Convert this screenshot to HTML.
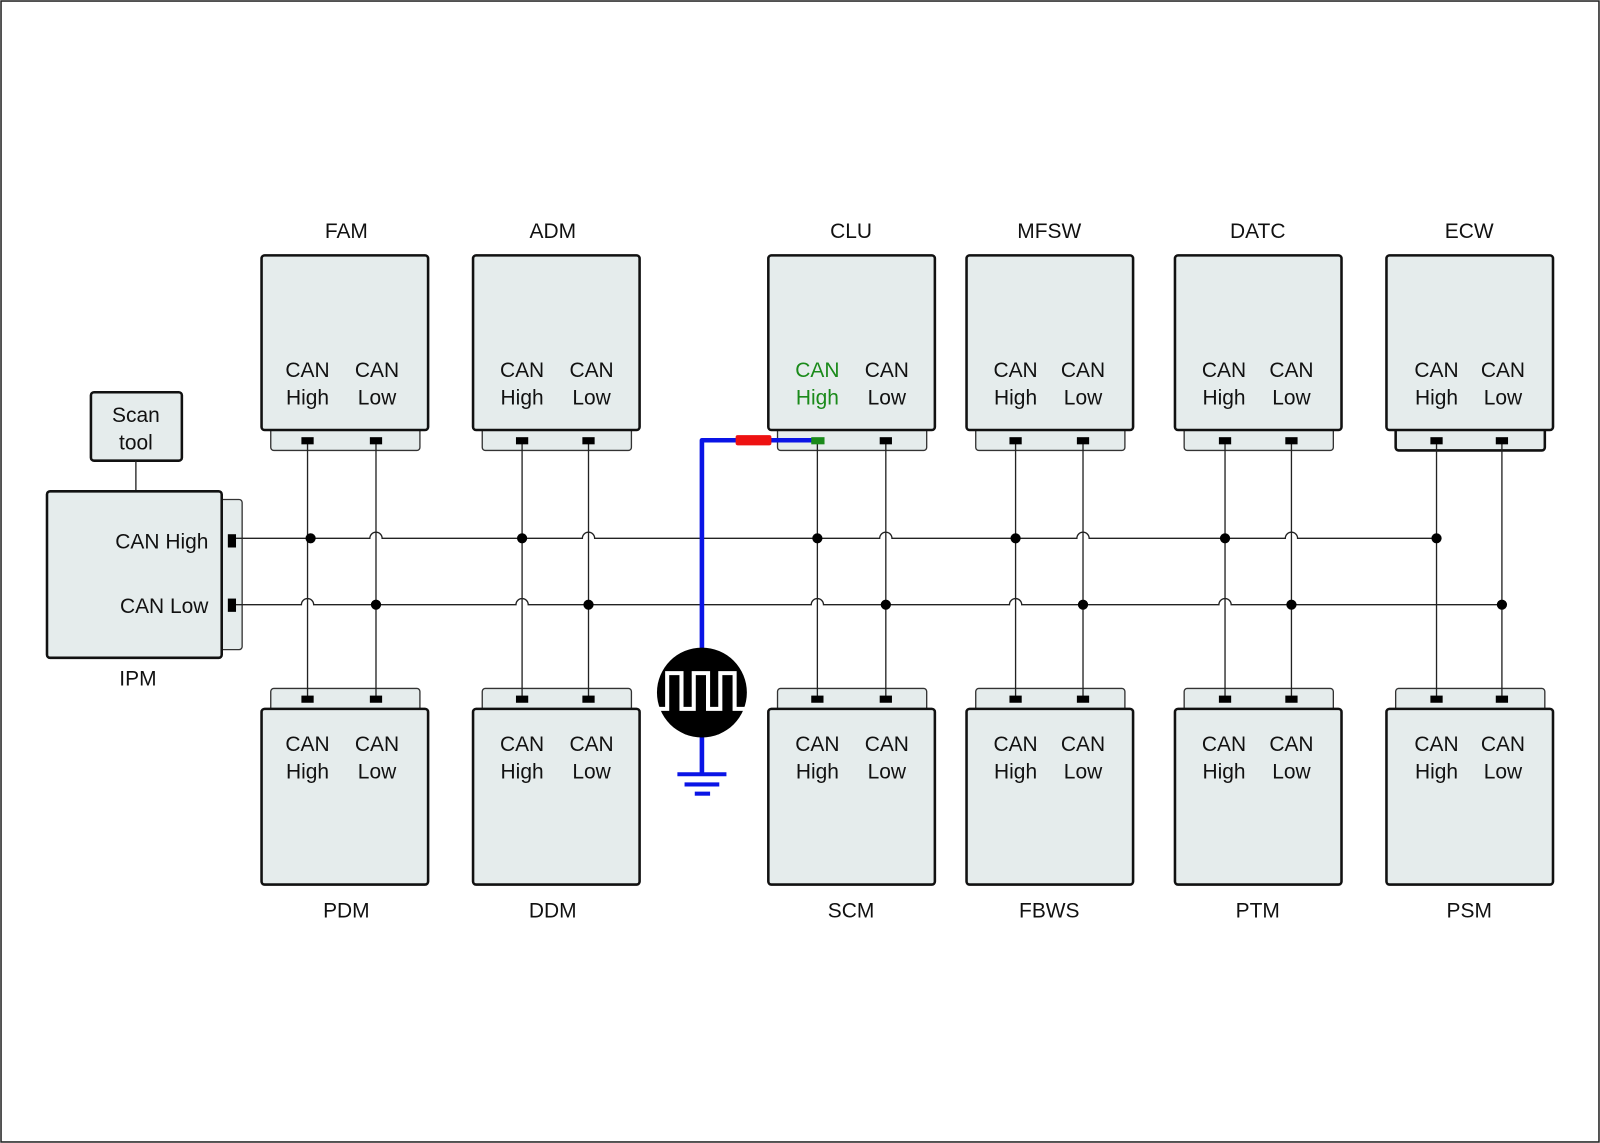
<!DOCTYPE html>
<html><head><meta charset="utf-8"><style>
html,body{margin:0;padding:0;background:#fff}
svg{display:block}
text{font-family:"Liberation Sans",Arial,sans-serif;font-size:20.5px;fill:#111}
.b{fill:#e5ecec;stroke:#111;stroke-width:2.5}
.s{fill:#e5ecec;stroke:#333;stroke-width:1.3}
.w{stroke:#222;stroke-width:1.3;fill:none}
</style></head><body>
<svg width="1600" height="1143" viewBox="0 0 1566 1119" preserveAspectRatio="none" xmlns="http://www.w3.org/2000/svg">
<rect x="1" y="1" width="1564" height="1117" fill="#fff" stroke="#222" stroke-width="1.5"/>

<rect class="b" x="89" y="384" width="89" height="67" rx="3"/>
<text x="133" y="413" text-anchor="middle">Scan</text>
<text x="133" y="440" text-anchor="middle">tool</text>
<line class="w" x1="133" y1="451" x2="133" y2="481"/>
<rect class="s" x="210" y="489" width="27" height="147" rx="3"/>
<rect class="b" x="46" y="481" width="171" height="163" rx="3"/>
<text x="204" y="537" text-anchor="end">CAN High</text>
<text x="204" y="600" text-anchor="end">CAN Low</text>
<text x="135" y="671" text-anchor="middle">IPM</text>
<rect x="223" y="523" width="8" height="13" fill="#000"/>
<rect x="223" y="586" width="8" height="13" fill="#000"/>

<g>
<rect class="s" x="265" y="412" width="146" height="29" rx="3"/>
<rect class="s" x="472" y="412" width="146" height="29" rx="3"/>
<rect class="s" x="761" y="412" width="146" height="29" rx="3"/>
<rect class="s" x="955" y="412" width="146" height="29" rx="3"/>
<rect class="s" x="1159" y="412" width="146" height="29" rx="3"/>
<rect x="1366" y="412" width="146" height="29" rx="3" fill="#e5ecec" stroke="#111" stroke-width="2.5"/>
</g>
<g>
<rect class="s" x="265" y="674" width="146" height="30" rx="3"/>
<rect class="s" x="472" y="674" width="146" height="30" rx="3"/>
<rect class="s" x="761" y="674" width="146" height="30" rx="3"/>
<rect class="s" x="955" y="674" width="146" height="30" rx="3"/>
<rect class="s" x="1159" y="674" width="146" height="30" rx="3"/>
<rect class="s" x="1366" y="674" width="146" height="30" rx="3"/>
</g>

<rect class="b" x="256" y="250" width="163" height="171" rx="3"/>
<rect class="b" x="463" y="250" width="163" height="171" rx="3"/>
<rect class="b" x="752" y="250" width="163" height="171" rx="3"/>
<rect class="b" x="946" y="250" width="163" height="171" rx="3"/>
<rect class="b" x="1150" y="250" width="163" height="171" rx="3"/>
<rect class="b" x="1357" y="250" width="163" height="171" rx="3"/>
<rect class="b" x="256" y="694" width="163" height="172" rx="3"/>
<rect class="b" x="463" y="694" width="163" height="172" rx="3"/>
<rect class="b" x="752" y="694" width="163" height="172" rx="3"/>
<rect class="b" x="946" y="694" width="163" height="172" rx="3"/>
<rect class="b" x="1150" y="694" width="163" height="172" rx="3"/>
<rect class="b" x="1357" y="694" width="163" height="172" rx="3"/>

<g text-anchor="middle">
<text x="339" y="233">FAM</text><text x="541" y="233">ADM</text><text x="833" y="233">CLU</text>
<text x="1027" y="233">MFSW</text><text x="1231" y="233">DATC</text><text x="1438" y="233">ECW</text>
<text x="339" y="898">PDM</text><text x="541" y="898">DDM</text><text x="833" y="898">SCM</text>
<text x="1027" y="898">FBWS</text><text x="1231" y="898">PTM</text><text x="1438" y="898">PSM</text>

<text x="301" y="369">CAN</text><text x="301" y="396">High</text><text x="369" y="369">CAN</text><text x="369" y="396">Low</text>
<text x="511" y="369">CAN</text><text x="511" y="396">High</text><text x="579" y="369">CAN</text><text x="579" y="396">Low</text>
<text x="800" y="369" style="fill:#1a8a1a">CAN</text><text x="800" y="396" style="fill:#1a8a1a">High</text><text x="868" y="369">CAN</text><text x="868" y="396">Low</text>
<text x="994" y="369">CAN</text><text x="994" y="396">High</text><text x="1060" y="369">CAN</text><text x="1060" y="396">Low</text>
<text x="1198" y="369">CAN</text><text x="1198" y="396">High</text><text x="1264" y="369">CAN</text><text x="1264" y="396">Low</text>
<text x="1406" y="369">CAN</text><text x="1406" y="396">High</text><text x="1471" y="369">CAN</text><text x="1471" y="396">Low</text>

<text x="301" y="735">CAN</text><text x="301" y="762">High</text><text x="369" y="735">CAN</text><text x="369" y="762">Low</text>
<text x="511" y="735">CAN</text><text x="511" y="762">High</text><text x="579" y="735">CAN</text><text x="579" y="762">Low</text>
<text x="800" y="735">CAN</text><text x="800" y="762">High</text><text x="868" y="735">CAN</text><text x="868" y="762">Low</text>
<text x="994" y="735">CAN</text><text x="994" y="762">High</text><text x="1060" y="735">CAN</text><text x="1060" y="762">Low</text>
<text x="1198" y="735">CAN</text><text x="1198" y="762">High</text><text x="1264" y="735">CAN</text><text x="1264" y="762">Low</text>
<text x="1406" y="735">CAN</text><text x="1406" y="762">High</text><text x="1471" y="735">CAN</text><text x="1471" y="762">Low</text>
</g>

<g class="w">
<line x1="301" y1="431" x2="301" y2="684"/><line x1="368" y1="431" x2="368" y2="684"/>
<line x1="511" y1="431" x2="511" y2="684"/><line x1="576" y1="431" x2="576" y2="684"/>
<line x1="800" y1="431" x2="800" y2="684"/><line x1="867" y1="431" x2="867" y2="684"/>
<line x1="994" y1="431" x2="994" y2="684"/><line x1="1060" y1="431" x2="1060" y2="684"/>
<line x1="1199" y1="431" x2="1199" y2="684"/><line x1="1264" y1="431" x2="1264" y2="684"/>
<line x1="1406" y1="431" x2="1406" y2="684"/><line x1="1470" y1="431" x2="1470" y2="684"/>
</g>
<path class="w" d="M231,527 H362 A6,6 0 0 1 374,527 H570 A6,6 0 0 1 582,527 H861 A6,6 0 0 1 873,527 H1054 A6,6 0 0 1 1066,527 H1258 A6,6 0 0 1 1270,527 H1406"/>
<path class="w" d="M231,592 H295 A6,6 0 0 1 307,592 H505 A6,6 0 0 1 517,592 H794 A6,6 0 0 1 806,592 H988 A6,6 0 0 1 1000,592 H1193 A6,6 0 0 1 1205,592 H1470"/>
<g fill="#000">
<circle cx="304" cy="527" r="5"/><circle cx="511" cy="527" r="5"/><circle cx="800" cy="527" r="5"/><circle cx="994" cy="527" r="5"/><circle cx="1199" cy="527" r="5"/><circle cx="1406" cy="527" r="5"/>
<circle cx="368" cy="592" r="5"/><circle cx="576" cy="592" r="5"/><circle cx="867" cy="592" r="5"/><circle cx="1060" cy="592" r="5"/><circle cx="1264" cy="592" r="5"/><circle cx="1470" cy="592" r="5"/>
</g>
<g fill="#000">
<rect x="295" y="428" width="12" height="7"/><rect x="362" y="428" width="12" height="7"/>
<rect x="505" y="428" width="12" height="7"/><rect x="570" y="428" width="12" height="7"/>
<rect x="861" y="428" width="12" height="7"/>
<rect x="988" y="428" width="12" height="7"/><rect x="1054" y="428" width="12" height="7"/>
<rect x="1193" y="428" width="12" height="7"/><rect x="1258" y="428" width="12" height="7"/>
<rect x="1400" y="428" width="12" height="7"/><rect x="1464" y="428" width="12" height="7"/>
<rect x="295" y="681" width="12" height="7"/><rect x="362" y="681" width="12" height="7"/>
<rect x="505" y="681" width="12" height="7"/><rect x="570" y="681" width="12" height="7"/>
<rect x="794" y="681" width="12" height="7"/><rect x="861" y="681" width="12" height="7"/>
<rect x="988" y="681" width="12" height="7"/><rect x="1054" y="681" width="12" height="7"/>
<rect x="1193" y="681" width="12" height="7"/><rect x="1258" y="681" width="12" height="7"/>
<rect x="1400" y="681" width="12" height="7"/><rect x="1464" y="681" width="12" height="7"/>
</g>

<path d="M800,431 H687 V640" fill="none" stroke="#0a14e6" stroke-width="4.5" stroke-linejoin="round"/>
<rect x="720" y="426" width="35" height="10" rx="2" fill="#ee1111"/>
<rect x="794" y="428" width="13" height="7" fill="#1a8a1a"/>
<line x1="687" y1="715" x2="687" y2="758" stroke="#0a14e6" stroke-width="4.5"/>
<line x1="663" y1="758" x2="711" y2="758" stroke="#0a14e6" stroke-width="4"/>
<line x1="670" y1="768" x2="704" y2="768" stroke="#0a14e6" stroke-width="4"/>
<line x1="680" y1="777" x2="695" y2="777" stroke="#0a14e6" stroke-width="4"/>
<circle cx="687" cy="678" r="44" fill="#000"/>
<path d="M644,694 H653 V659 H667 V694 H679 V659 H693 V694 H705 V659 H719 V694 H731" fill="none" stroke="#fff" stroke-width="4"/>
</svg>
</body></html>
